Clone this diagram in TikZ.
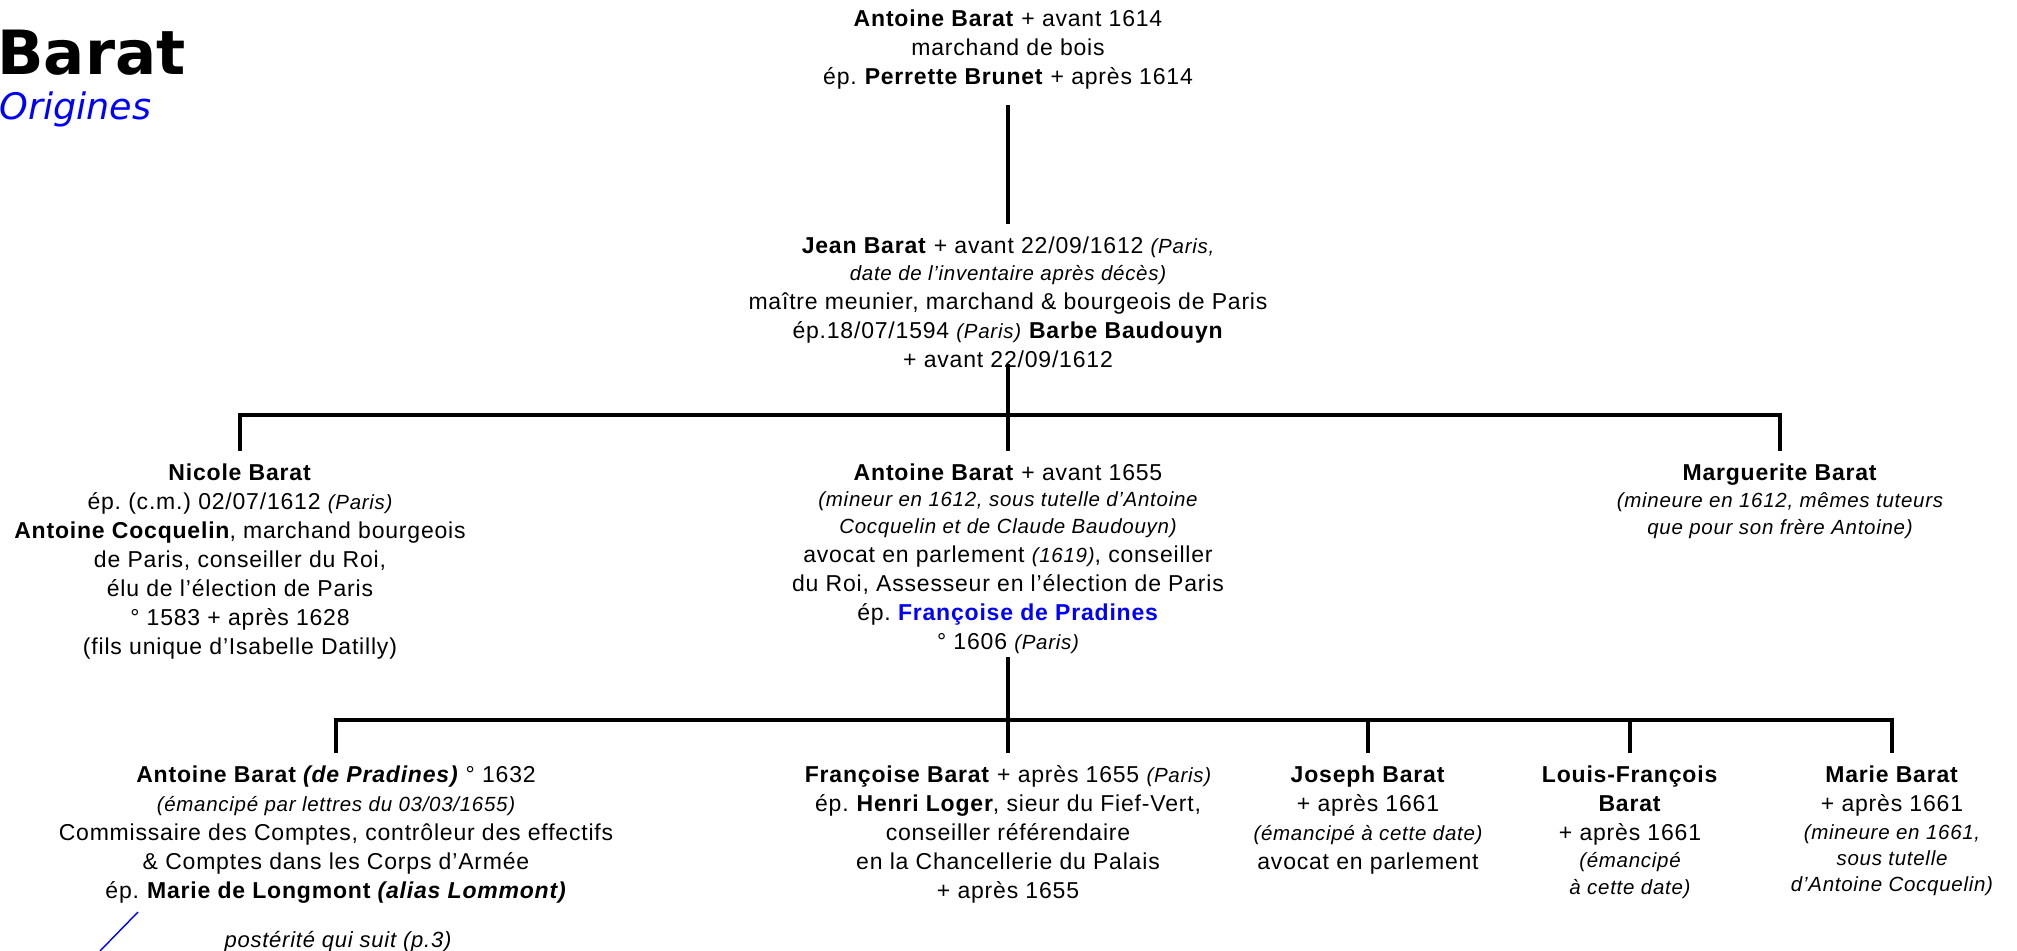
\documentclass[tikz,border=0pt]{standalone}
\usepackage{fontspec}
\setmainfont{Liberation Sans}[LetterSpace=3.5]
\newfontfamily\titlefont{DejaVu Sans}
\usepackage{xcolor}
\usepackage{tikz}
\usetikzlibrary{positioning}
\frenchspacing

\newcommand{\itl}[1]{{\fontsize{10.25}{12}\selectfont\itshape #1}}

\begin{document}
\begin{tikzpicture}[x=0.5pt, y=-0.5pt]
    % Define styles
    \tikzstyle{person} = [align=center, anchor=north, inner xsep=0pt, inner ysep=6pt, font=\fontsize{11.5}{14.5}\selectfont, execute at begin node=\strut, execute at end node=\strut]
    \tikzstyle{line} = [line width=1.6pt]
    \useasboundingbox (0,0) rectangle (2017,951);

    % Title
    \node [anchor=base west, inner sep=0pt, font=\titlefont\bfseries\fontsize{30.5}{36}\selectfont] (title) at (-3,75) {Barat};
    \node [anchor=base west, inner sep=0pt, font=\titlefont\itshape\fontsize{18.25}{22}\selectfont, text=blue] (origines) at (-1,120) {Origines};

    % Nodes
    \node [person] (anc) at (1008,-3) {\textbf{Antoine Barat} + avant 1614\\ marchand de bois\\ ép. \textbf{Perrette Brunet} + après 1614};
    \node [person] (jean) at (1008,224) {\textbf{Jean Barat} + avant 22/09/1612 \itl{(Paris,}\\[-1pt] \itl{date de l’inventaire après décès)}\\ maître meunier, marchand \& bourgeois de Paris\\ ép.18/07/1594 \itl{(Paris)} \textbf{Barbe Baudouyn}\\ + avant 22/09/1612};
    \node [person] (nicole) at (240,451) {\textbf{Nicole Barat}\\ ép. (c.m.) 02/07/1612 \itl{(Paris)}\\ \textbf{Antoine Cocquelin}, marchand bourgeois\\ de Paris, conseiller du Roi,\\ élu de l’élection de Paris\\ ° 1583 + après 1628\\ (fils unique d’Isabelle Datilly)};
    \node [person] (ant) at (1008,451) {\textbf{Antoine Barat} + avant 1655\\[-1.5pt] \itl{(mineur en 1612, sous tutelle d’Antoine}\\[-1pt] \itl{Cocquelin et de Claude Baudouyn)}\\ avocat en parlement \itl{(1619)}, conseiller\\ du Roi, Assesseur en l’élection de Paris\\ ép. \textcolor{blue}{\textbf{Françoise de Pradines}}\\ ° 1606 \itl{(Paris)}};
    \node [person] (marg) at (1780,451) {\textbf{Marguerite Barat}\\[-1pt] \itl{(mineure en 1612, mêmes tuteurs}\\[-1pt] \itl{que pour son frère Antoine)}};
    \node [person] (ant3) at (336,753) {\textbf{Antoine Barat \textit{(de Pradines)}} ° 1632\\ \itl{(émancipé par lettres du 03/03/1655)}\\ Commissaire des Comptes, contrôleur des effectifs\\ \& Comptes dans les Corps d’Armée\\ ép. \textbf{Marie de Longmont \textit{(alias Lommont)}}};
    \node [person] (fran) at (1008,753) {\textbf{Françoise Barat} + après 1655 \itl{(Paris)}\\ ép. \textbf{Henri Loger}, sieur du Fief-Vert,\\ conseiller référendaire\\ en la Chancellerie du Palais\\ + après 1655};
    \node [person] (joseph) at (1368,753) {\textbf{Joseph Barat}\\ + après 1661\\ \itl{(émancipé à cette date)}\\ avocat en parlement};
    \node [person] (louis) at (1630,753) {\textbf{Louis-François}\\ \textbf{Barat}\\ + après 1661\\[-1pt] \itl{(émancipé}\\[-1pt] \itl{à cette date)}};
    \node [person] (marie) at (1892,753) {\textbf{Marie Barat}\\ + après 1661\\[-0.5pt] \itl{(mineure en 1661,}\\[-1.5pt] \itl{sous tutelle}\\[-1.5pt] \itl{d’Antoine Cocquelin)}};
    \node [anchor=base, inner sep=0pt, font=\fontsize{11}{13}\selectfont\itshape] (suite) at (338,947) {postérité qui suit (p.3)};

    % Lines
    \coordinate (b1) at (1008,415);
    \coordinate (b2) at (1008,720);
    \draw [line] (anc.south) -- (jean.north);
    \draw [line, shorten <=-12pt] (jean.south) -- (ant.north);
    \draw [line] (nicole.north) |- (b1) -| (marg.north);
    \draw [line, shorten <=-6.5pt] (ant.south) -- (fran.north);
    \draw [line] (ant3.north) |- (b2) -| (marie.north);
    \draw [line] (joseph.north) -- (joseph.north |- b2);
    \draw [line] (louis.north) -- (louis.north |- b2);
    \draw [blue, line width=0.7pt] (100,951) -- (138,912);
\end{tikzpicture}
\end{document}
